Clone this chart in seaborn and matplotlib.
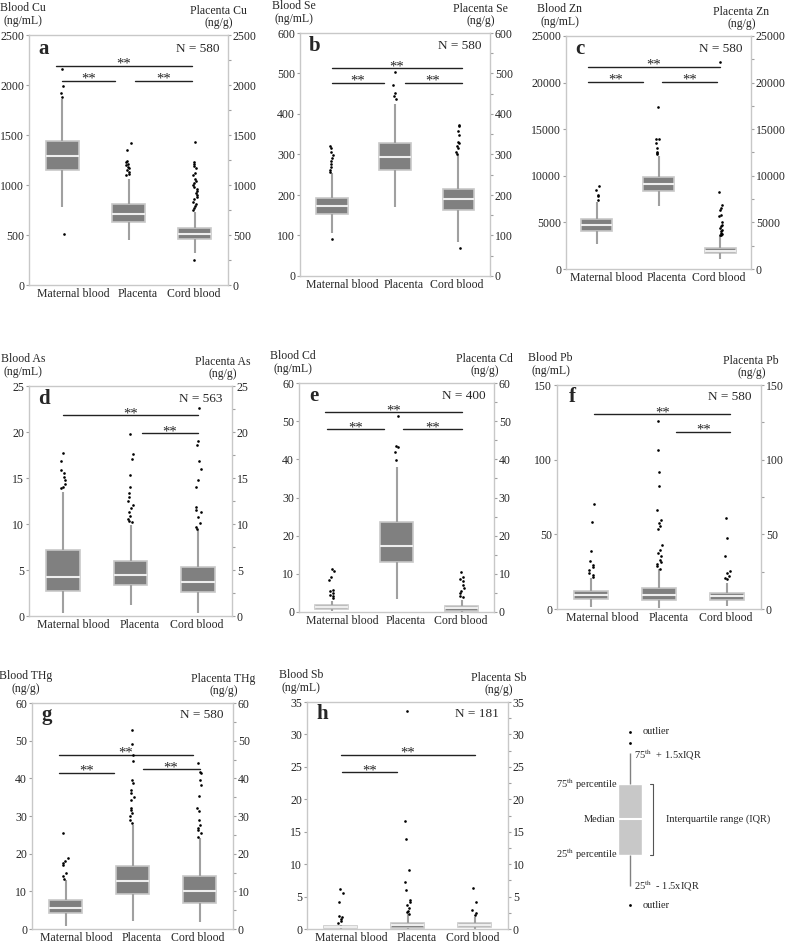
import matplotlib
matplotlib.use('Agg')
import matplotlib.pyplot as plt
from matplotlib.ticker import MultipleLocator
import numpy as np
import pandas as pd
import seaborn as sns

sites = ['Maternal blood', 'Placenta', 'Cord blood']

# five-number summaries per site: lower whisker, Q1, median, Q3, upper whisker
cu_box = [[783, 1150, 1293, 1440, 1857], [450, 627, 707, 810, 1060], [317, 460, 507, 570, 733]]
cu_out = [[2157, 1993, 1917, 1883, 507],
          [1417, 1350, 1240, 1225, 1210, 1195, 1180, 1165, 1150, 1130, 1110, 1095],
          [1433, 1230, 1210, 1190, 1170, 1120, 1100, 1060, 1040, 1020, 1000, 980, 960, 940,
           920, 900, 880, 860, 830, 810, 790, 770, 750, 250]]

se_box = [[105, 152, 173, 192, 254], [170, 262, 293, 328, 425], [85, 163, 190, 215, 299]]
se_out = [[91, 322, 316, 307, 299, 291, 283, 277, 270, 262, 258],
          [503, 471, 452, 445, 438],
          [70, 373, 371, 357, 349, 332, 328, 322, 316, 307, 302]]

zn_box = [[2679, 4107, 4679, 5357, 7143], [6786, 8321, 9143, 9893, 12071], [1071, 1714, 1964, 2250, 3500]]
zn_out = [[8857, 8500, 7964, 7786, 7429],
          [17357, 14000, 13900, 13500, 13000, 12600, 12400, 12300],
          [22250, 8214, 6893, 6536, 6286, 5821, 5643, 5036, 4750, 4571, 4400, 4214, 4036,
           3857, 3750, 3679, 3600]]

as_box = [[0.36, 2.75, 4.28, 7.17, 13.5], [1.2, 3.33, 4.46, 5.98, 9.9], [0.29, 2.64, 3.73, 5.36, 9.35]]
as_out = [[17.75, 16.9, 15.9, 15.5, 15.1, 14.8, 14.4, 14.05, 13.9],
          [19.75, 17.6, 17.07, 15.3, 14.06, 13.4, 12.97, 12.5, 12.07, 11.7, 11.3, 10.9, 10.5,
           10.36, 10.2],
          [22.6, 19.0, 18.6, 16.8, 16.0, 14.8, 14.0, 11.9, 11.5, 11.3, 10.8, 10.07, 9.7, 9.5]]

cd_box = [[0.17, 0.87, 1.39, 1.92, 2.8], [3.5, 13.1, 17.4, 23.6, 38.1], [0.1, 0.35, 0.96, 1.65, 3.2]]
cd_out = [[11.2, 10.8, 9.06, 8.45, 5.8, 5.4, 5.0, 4.5, 4.1, 3.7],
          [51.4, 43.6, 43.3, 42.0, 39.9],
          [10.5, 9.3, 8.6, 8.0, 7.1, 6.3, 5.6, 5.0, 4.3, 3.9]]

pb_box = [[1.1, 6.7, 9.6, 11.8, 20.7], [0.67, 5.8, 9.1, 14.0, 26.7], [2.2, 6.2, 8.5, 10.7, 17.4]]
pb_out = [[70.2, 58.2, 39.0, 31.9, 29.6, 28.1, 26.3, 24.1, 22.5, 21.4],
          [126.1, 106.5, 92.0, 82.5, 66.4, 59.3, 57.5, 55.7, 53.5, 43.0, 39.7, 37.4, 35.2,
           33.0, 31.4, 30.1, 28.5, 27.0],
          [60.8, 47.5, 35.2, 25.2, 24.1, 22.3, 20.7, 20.1]]

hg_box = [[0.88, 4.13, 5.5, 7.64, 13.0], [2.2, 9.4, 12.7, 16.6, 27.7], [1.9, 7.0, 10.1, 14.0, 24.2]]
hg_out = [[25.5, 18.9, 18.0, 17.6, 17.1, 14.9, 14.1, 13.4],
          [52.9, 49.0, 46.1, 44.6, 39.5, 38.7, 36.9, 36.0, 35.1, 34.3, 32.1, 31.5, 30.8, 29.9,
           29.0, 28.1],
          [44.1, 41.7, 41.3, 39.5, 38.2, 35.4, 32.1, 31.4, 29.0, 27.7, 26.8, 26.4, 25.5, 24.3]]

sb_box = [[0.0, 0.1, 0.26, 0.46, 0.6], [0.0, 0.2, 0.6, 0.87, 2.25], [0.0, 0.26, 0.56, 0.87, 1.9]]
sb_out = [[6.1, 5.6, 4.2, 2.05, 1.8, 1.5, 1.2, 1.0],
          [33.6, 16.7, 13.8, 9.1, 7.2, 6.0, 4.5, 4.1, 3.7, 3.3, 2.8, 2.6, 2.3],
          [6.3, 4.2, 3.0, 2.4, 2.1]]

# schematic box for the key (arbitrary units)
key_box = [1.5, 3.1, 4.9, 6.7, 8.3]
key_out = [9.4, 8.8, 0.5]

BOX_GRAY = '#808080'
EDGE_GRAY = '#c8c8c8'
WHISK_GRAY = '#a0a0a0'
W, H = 785, 946
LABEL_POS = [0.16, 1.14, 1.98]


def px_rect(x0, y0, x1, y1):
    return [x0 / W, 1 - y1 / H, (x1 - x0) / W, (y1 - y0) / H]


panels = [
    dict(letter='a', elem='Cu', unit='ng/mL', ymax=2500, step=500, n=580, box=cu_box, out=cu_out,
         bars=[(-0.1, 1.95, 2193), (0.0, 0.8, 2043), (1.1, 1.95, 2043)], rect=(29, 35, 228, 285)),
    dict(letter='b', elem='Se', unit='ng/mL', ymax=600, step=100, n=580, box=se_box, out=se_out,
         bars=[(0.0, 2.05, 513), (0.0, 0.82, 477), (1.15, 2.05, 477)], rect=(300, 33, 490, 276)),
    dict(letter='c', elem='Zn', unit='ng/mL', ymax=25000, step=5000, n=580, box=zn_box, out=zn_out,
         bars=[(-0.15, 2.0, 21700), (-0.15, 0.75, 20100), (1.05, 1.95, 20100)], rect=(566, 36, 751, 269)),
    dict(letter='d', elem='As', unit='ng/mL', ymax=25, step=5, n=563, box=as_box, out=as_out,
         bars=[(0.0, 2.0, 21.8), (1.17, 2.0, 19.86)], rect=(29, 386, 232, 616)),
    dict(letter='e', elem='Cd', unit='ng/mL', ymax=60, step=10, n=400, box=cd_box, out=cd_out,
         bars=[(-0.1, 2.0, 52.3), (-0.07, 0.8, 47.9), (1.1, 2.0, 47.9)], rect=(299, 383, 494, 612)),
    dict(letter='f', elem='Pb', unit='ng/mL', ymax=150, step=50, n=580, box=pb_box, out=pb_out,
         bars=[(0.05, 2.05, 130.6), (1.25, 2.05, 118.8)], rect=(557, 385, 761, 609)),
    dict(letter='g', elem='THg', unit='ng/g', ymax=60, step=10, n=580, box=hg_box, out=hg_out,
         bars=[(-0.1, 1.9, 46.3), (-0.1, 0.72, 41.5), (1.15, 2.0, 42.4)], rect=(32, 703, 233, 929)),
    dict(letter='h', elem='Sb', unit='ng/mL', ymax=35, step=5, n=181, box=sb_box, out=sb_out,
         bars=[(0.0, 2.0, 26.9), (0.02, 0.84, 24.2)], rect=(307, 702, 508, 929)),
]

sns.set_style('white')
plt.rcParams['font.family'] = ['Liberation Serif', 'DejaVu Serif']
plt.rcParams['mathtext.fontset'] = 'stix'
np.random.seed(3)

fig = plt.figure(figsize=(W / 100, H / 100), dpi=100)


def long_frame(groups, labels):
    rows = []
    for lab, vals in zip(labels, groups):
        rows += [(lab, v) for v in vals]
    return pd.DataFrame(rows, columns=['site', 'value'])


for p in panels:
    ax = fig.add_axes(px_rect(*p['rect']))
    box_df = long_frame(p['box'], sites)
    out_df = long_frame(p['out'], sites)
    sns.boxplot(data=box_df, x='site', y='value', order=sites, whis=(0, 100), width=0.5,
                color=BOX_GRAY, linecolor=EDGE_GRAY, saturation=1, showcaps=False,
                showfliers=False, linewidth=1.2,
                medianprops=dict(color='#eeeeee', linewidth=1.5),
                whiskerprops=dict(color=WHISK_GRAY, linewidth=1.5), ax=ax)
    sns.stripplot(data=out_df, x='site', y='value', order=sites, color='black', size=1.9,
                  jitter=0.04, linewidth=0, ax=ax)
    ax.set_xlim(-0.5, 2.5)
    ax.set_ylim(0, p['ymax'])
    ax.set_xlabel('')
    ax.set_ylabel('')
    # category names sit as one run of text, slightly shifted from the boxes
    ax.set_xticks(LABEL_POS, sites)
    ax.yaxis.set_major_locator(MultipleLocator(p['step']))
    ax.yaxis.set_minor_locator(MultipleLocator(p['step'] / 2))
    for s in ax.spines.values():
        s.set_visible(True)
        s.set_color(EDGE_GRAY)
        s.set_linewidth(1)
    ax.tick_params(axis='y', which='major', direction='out', length=2.5, width=0.8, color=WHISK_GRAY,
                   labelsize=8.5, left=True, right=True, labelleft=True, labelright=True, pad=1)
    ax.tick_params(axis='y', which='minor', direction='out', length=2, width=0.8, color=WHISK_GRAY,
                   left=False, right=True)
    ax.tick_params(axis='x', length=0, labelsize=8.5, pad=2.5)

    for x1, x2, y in p['bars']:
        ax.plot([x1, x2], [y, y], color='#222222', lw=1)
        ax.annotate('**', xy=((x1 + x2) / 2, y), xytext=(0, -1.5), textcoords='offset points',
                    ha='center', va='baseline', fontsize=10.5)

    ax.text(0.075, 0.945, p['letter'], transform=ax.transAxes, ha='center', va='center',
            fontsize=15, fontweight='bold')
    ax.text(0.955, 0.945, f"N = {p['n']}", transform=ax.transAxes, ha='right', va='center',
            fontsize=9.5)
    ax.annotate(f"Blood {p['elem']}\n({p['unit']})", xy=(0, 1), xycoords='axes fraction',
                xytext=(-4.5, 6), textcoords='offset points', ha='center', va='bottom',
                fontsize=8.5, linespacing=1.1)
    ax.annotate(f"Placenta {p['elem']}\n(ng/g)", xy=(1, 1), xycoords='axes fraction',
                xytext=(-7, 4), textcoords='offset points', ha='center', va='bottom',
                fontsize=8.5, linespacing=1.1)

# key explaining the box elements
kax = fig.add_axes(px_rect(530, 720, 785, 915))
key_df = pd.DataFrame({'site': ['key'] * len(key_box), 'value': key_box})
key_out_df = pd.DataFrame({'site': ['key'] * len(key_out), 'value': key_out})
sns.boxplot(data=key_df, x='site', y='value', whis=(0, 100), width=0.24, color='#c8c8c8',
            linecolor='white', saturation=1, showcaps=False, showfliers=False,
            medianprops=dict(color='white', linewidth=1.5),
            whiskerprops=dict(color='#808080', linewidth=1), ax=kax)
sns.stripplot(data=key_out_df, x='site', y='value', color='black', size=2.0, jitter=0,
              linewidth=0, ax=kax)
kax.set_xlim(-1.0, 1.55)
kax.set_ylim(0, 10)
kax.axis('off')

q_lo, q1, med, q3, q_hi = key_box
kfs = 7.5
kax.text(0.13, key_out[0], 'outlier', ha='left', va='center', fontsize=kfs)
kax.text(0.13, key_out[2], 'outlier', ha='left', va='center', fontsize=kfs)
kax.text(0.04, q_hi - 0.1, r'75$^{\rm th}$  + 1.5xIQR', ha='left', va='center', fontsize=kfs)
kax.text(0.04, q_lo, r'25$^{\rm th}$  - 1.5xIQR', ha='left', va='center', fontsize=kfs)
kax.text(-0.12, q3, r'75$^{\rm th}$ percentile', ha='right', va='center', fontsize=kfs)
kax.text(-0.15, med, 'Median', ha='right', va='center', fontsize=kfs)
kax.text(-0.12, q1, r'25$^{\rm th}$ percentile', ha='right', va='center', fontsize=kfs)
kax.text(0.36, med, 'Interquartile range (IQR)', ha='left', va='center', fontsize=kfs)
kax.plot([0.2, 0.23, 0.23, 0.2], [q3, q3, q1, q1], color='#555555', lw=0.8)

fig.savefig('out.png', dpi=100)
